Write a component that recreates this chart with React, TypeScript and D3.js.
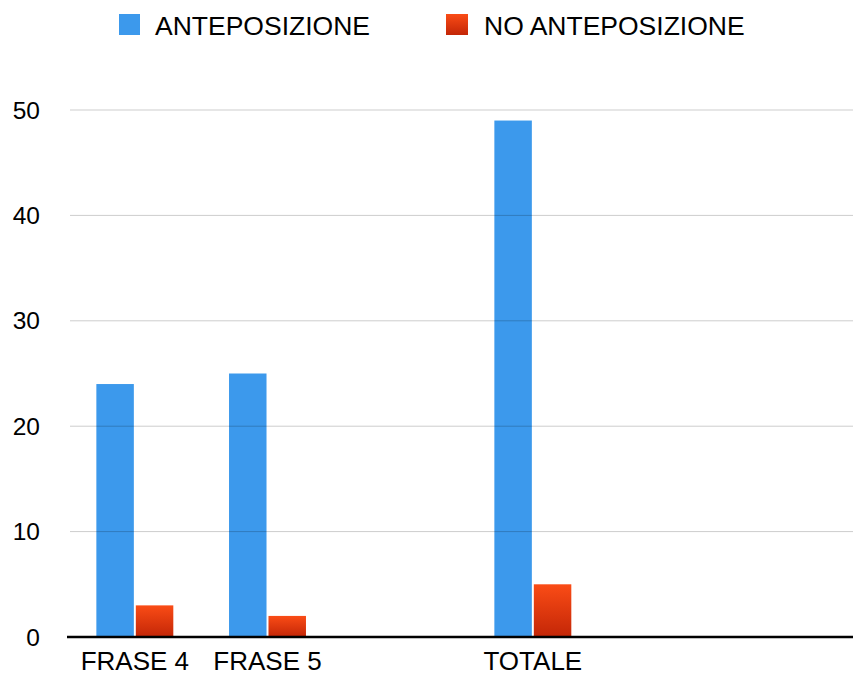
import React from "react";
import * as d3 from "d3";

const categories = ["FRASE 4", "FRASE 5", "", "TOTALE", " ", "  "];
const seriesNames = ["ANTEPOSIZIONE", "NO ANTEPOSIZIONE"];
const anteposizione = [24, 25, null, 49, null, null];
const noAnteposizione = [3, 2, null, 5, null, null];
const yTicks = [0, 10, 20, 30, 40, 50];

const W = 853;
const H = 675;
const FONT = "'Liberation Sans', Arial, Helvetica, sans-serif";

export default function App() {
  const x0 = d3.scaleBand<string>().domain(categories).range([68.5, 864.5]).paddingInner(0.42).paddingOuter(0.21);
  const x1 = d3.scaleBand<string>().domain(seriesNames).range([0, x0.bandwidth()]).paddingInner(0.05);
  const y = d3.scaleLinear().domain([0, 50]).range([637, 110]);
  const series = [anteposizione, noAnteposizione];

  return (
    <svg width={W} height={H} style={{ position: "absolute", left: 0, top: 0, background: "#fff" }}>
      <defs>
        <linearGradient id="redGrad" x1="0" y1="0" x2="0" y2="1">
          <stop offset="0%" stopColor="#FA4C16" />
          <stop offset="100%" stopColor="#C32607" />
        </linearGradient>
        <clipPath id="clip">
          <rect x={0} y={0} width={W} height={H} />
        </clipPath>
      </defs>
      <rect x={0} y={0} width={W} height={H} fill="#fff" />
      {/* Legend */}
      <g fontFamily={FONT} fontSize={26.5} fill="#000">
        <rect x={119} y={14} width={21} height={21} fill="#3C99EC" />
        <text x={155} y={35}>{seriesNames[0]}</text>
        <rect x={446} y={14} width={22} height={21} fill="url(#redGrad)" />
        <text x={484} y={35}>{seriesNames[1]}</text>
      </g>
      {/* Bars */}
      <g clipPath="url(#clip)">
        {categories.map((c, i) =>
          series.map((s, j) => {
            const v = s[i];
            if (v == null) return null;
            const bx = (x0(c) as number) + (x1(seriesNames[j]) as number);
            return (
              <rect
                key={`${i}-${j}`}
                x={bx}
                y={y(v)}
                width={x1.bandwidth()}
                height={y(0) - y(v)}
                fill={j === 0 ? "#3C99EC" : "url(#redGrad)"}
              />
            );
          })
        )}
      </g>
      {/* Gridlines */}
      {yTicks.filter((t) => t > 0).map((t) => (
        <line key={t} x1={70} x2={W} y1={y(t)} y2={y(t)} stroke="rgba(0,0,0,0.2)" strokeWidth={1} />
      ))}
      {/* Baseline */}
      <line x1={67} x2={W} y1={y(0)} y2={y(0)} stroke="#000" strokeWidth={2.5} />
      {/* Y labels */}
      <g fontFamily={FONT} fontSize={24.5} fill="#000" textAnchor="end">
        {yTicks.map((t) => (
          <text key={t} x={40} y={y(t)} dy="0.35em">{t}</text>
        ))}
      </g>
      {/* X labels */}
      <g fontFamily={FONT} fontSize={26} fill="#000" textAnchor="middle">
        {categories.map((c, i) => (
          <text key={i} x={(x0(c) as number) + x0.bandwidth() / 2} y={670}>{c.trim()}</text>
        ))}
      </g>
    </svg>
  );
}
